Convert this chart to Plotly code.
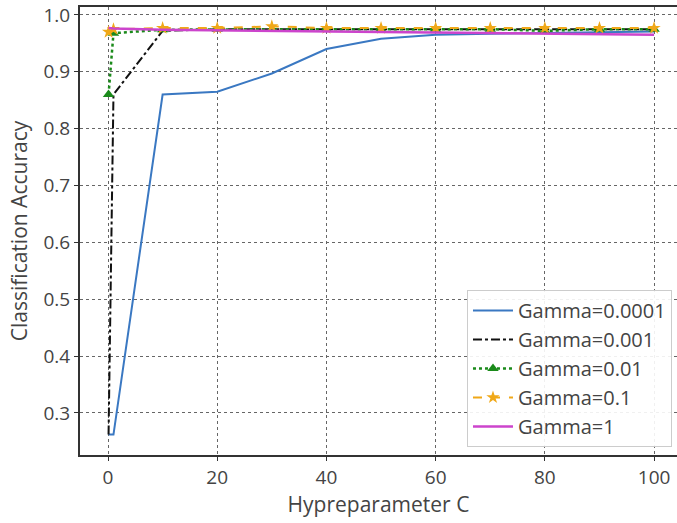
import plotly.graph_objects as go

C = [0.1, 1, 10, 20, 30, 40, 50, 60, 70, 80, 90, 100]
gamma_0001 = [0.262, 0.262, 0.860, 0.865, 0.897, 0.940, 0.958, 0.965, 0.967, 0.968, 0.970, 0.971]
gamma_001 = [0.262, 0.860, 0.972, 0.975, 0.975, 0.975, 0.975, 0.975, 0.975, 0.975, 0.975, 0.975]
gamma_01 = [0.860, 0.968, 0.974, 0.975, 0.975, 0.975, 0.975, 0.975, 0.975, 0.972, 0.975, 0.975]
gamma_1 = [0.970, 0.975, 0.977, 0.977, 0.980, 0.977, 0.977, 0.977, 0.977, 0.977, 0.977, 0.977]
gamma1 = [0.977, 0.976, 0.974, 0.973, 0.972, 0.971, 0.970, 0.969, 0.968, 0.967, 0.966, 0.965]

x_ticks = [0, 20, 40, 60, 80, 100]
y_ticks = [0.3, 0.4, 0.5, 0.6, 0.7, 0.8, 0.9, 1.0]

FONT = "Open Sans"
TXT = "#444444"

fig = go.Figure()
fig.add_trace(go.Scatter(x=C, y=gamma_0001, mode="lines", name="Gamma=0.0001",
                         line=dict(color="#3a78c2", width=2)))
fig.add_trace(go.Scatter(x=C, y=gamma_001, mode="lines", name="Gamma=0.001",
                         line=dict(color="#111111", width=2, dash="dashdot")))
fig.add_trace(go.Scatter(x=C, y=gamma_01, mode="lines+markers", name="Gamma=0.01",
                         line=dict(color="#1a8a1a", width=2.5, dash="dot"),
                         marker=dict(symbol="triangle-up", size=10, color="#1a8a1a")))
fig.add_trace(go.Scatter(x=C, y=gamma_1, mode="lines+markers", name="Gamma=0.1",
                         line=dict(color="#f0a818", width=2, dash="dash"),
                         marker=dict(symbol="star", size=10, color="#f0a818")))
fig.add_trace(go.Scatter(x=C, y=gamma1, mode="lines", name="Gamma=1",
                         line=dict(color="#cc44cc", width=2.5)))

common = dict(
    showline=True, linecolor="#333333", linewidth=2,
    showgrid=True, gridcolor="#666666", griddash="dot", gridwidth=1,
    ticks="outside", ticklen=4, tickcolor="#333333",
    tickfont=dict(family=FONT, size=19, color=TXT),
    zeroline=False, automargin=False,
)

fig.update_layout(
    width=677, height=523,
    margin=dict(l=80, r=0, t=7, b=68),
    plot_bgcolor="white", paper_bgcolor="white",
    font=dict(family=FONT, color=TXT),
    xaxis=dict(range=[-5.13, 104.2], tickvals=x_ticks, mirror=True,
               title=dict(text="Hypreparameter C", font=dict(family=FONT, size=21, color=TXT), standoff=4),
               **common),
    yaxis=dict(range=[0.226, 1.014], tickvals=y_ticks, tickformat=".1f", mirror=False,
               title=dict(text="Classification Accuracy", font=dict(family=FONT, size=21, color=TXT), standoff=10),
               **common),
    legend=dict(x=0.9916, y=0.018, xanchor="right", yanchor="bottom",
                bgcolor="rgba(255,255,255,0.9)", bordercolor="#cccccc", borderwidth=1,
                font=dict(family=FONT, size=20, color=TXT),
                tracegroupgap=0, itemwidth=40),
    showlegend=True,
)

fig.write_html("out.html", config={"displayModeBar": False},
               post_script="document.body.style.margin='0';document.body.style.overflow='hidden';")
